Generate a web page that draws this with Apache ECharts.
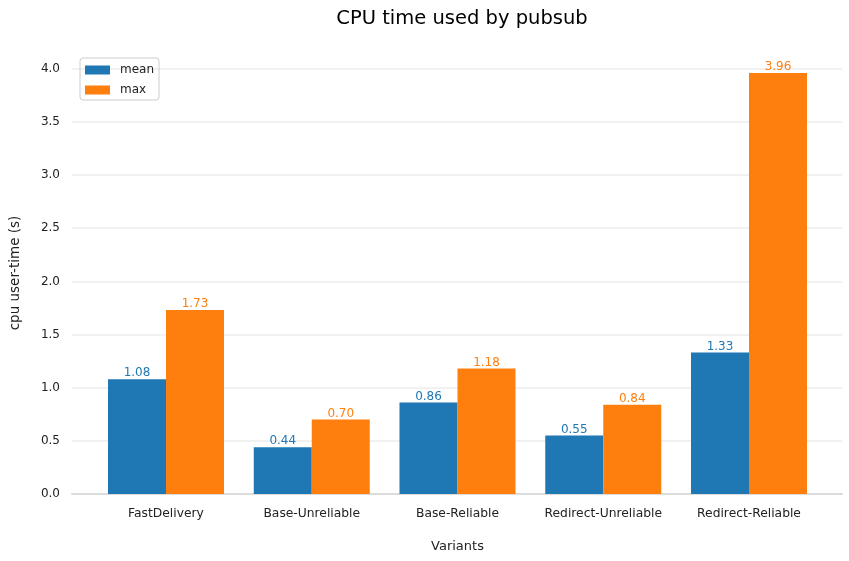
<!DOCTYPE html>
<html><head><meta charset="utf-8">
<script src="https://cdn.jsdelivr.net/npm/echarts@6/dist/echarts.min.js"></script>
<style>html,body{margin:0;padding:0;background:#fff}#c{width:849px;height:561px}</style>
</head><body><div id="c"></div>
<script>
const categories = ['FastDelivery','Base-Unreliable','Base-Reliable','Redirect-Unreliable','Redirect-Reliable'];
const meanValues = [1.08, 0.44, 0.86, 0.55, 1.33];
const maxValues = [1.73, 0.70, 1.18, 0.84, 3.96];
const yMax = 4.158;
const F = 'DejaVu Sans';
const chart = echarts.init(document.getElementById('c'));
const gTop = 52, gBottom = 67;
chart.setOption({
  animation: false,
  textStyle: {fontFamily: F},
  title: {text: 'CPU time used by pubsub', left: 457, top: 4, textAlign: 'center',
    textStyle: {fontFamily: F, fontSize: 19.5, fontWeight: 'normal', color: '#000'}},
  legend: {orient: 'vertical', left: 80, top: 58, itemWidth: 25, itemHeight: 9, itemGap: 8,
    borderColor: '#ccc', borderWidth: 1, borderRadius: 3, padding: [6, 5, 4, 5],
    textStyle: {fontFamily: F, fontSize: 12, color: '#222', padding: [0, 0, 0, 5]}, icon: 'rect',
    data: ['mean', 'max']},
  grid: [
    {left: 72, right: 7, top: gTop, bottom: gBottom},
    {left: 93.125, width: 728.75, top: gTop, bottom: gBottom}
  ],
  xAxis: [
    {gridIndex: 0, type: 'value', min: 0, max: 1, axisLabel: {show: false}, axisTick: {show: false},
      splitLine: {show: false}, axisLine: {show: true, lineStyle: {color: '#dcdcdc', width: 2}}},
    {gridIndex: 1, type: 'category', data: categories, axisLine: {show: false}, axisTick: {show: false},
      axisLabel: {fontFamily: F, fontSize: 12.3, color: '#222', margin: 14, interval: 0},
      name: 'Variants', nameLocation: 'middle', nameGap: 46,
      nameTextStyle: {fontFamily: F, fontSize: 13, color: '#222'}}
  ],
  yAxis: [
    {gridIndex: 0, type: 'value', min: 0, max: yMax, interval: 0.5,
      axisLine: {show: false}, axisTick: {show: false},
      axisLabel: {fontFamily: F, fontSize: 12, color: '#222', margin: 12, showMaxLabel: false,
        formatter: v => v.toFixed(1)},
      splitLine: {showMaxLine: false, lineStyle: {color: '#ececec', width: 1.5}},
      name: 'cpu user-time (s)', nameLocation: 'middle', nameGap: 50,
      nameTextStyle: {fontFamily: F, fontSize: 13.5, color: '#222'}},
    {gridIndex: 1, type: 'value', min: 0, max: yMax, show: false}
  ],
  series: [
    {name: 'mean', type: 'bar', xAxisIndex: 1, yAxisIndex: 1, data: meanValues,
      barGap: '0%', barCategoryGap: '20.41%', itemStyle: {color: '#1f77b4', borderWidth: 0},
      label: {show: true, position: 'top', distance: 0, color: '#1f77b4', fontFamily: F, fontSize: 12,
        formatter: p => p.value.toFixed(2)}},
    {name: 'max', type: 'bar', xAxisIndex: 1, yAxisIndex: 1, data: maxValues,
      barGap: '0%', barCategoryGap: '20.41%', itemStyle: {color: '#ff7f0e', borderWidth: 0},
      label: {show: true, position: 'top', distance: 0, color: '#ff7f0e', fontFamily: F, fontSize: 12,
        formatter: p => p.value.toFixed(2)}}
  ]
});
</script></body></html>
